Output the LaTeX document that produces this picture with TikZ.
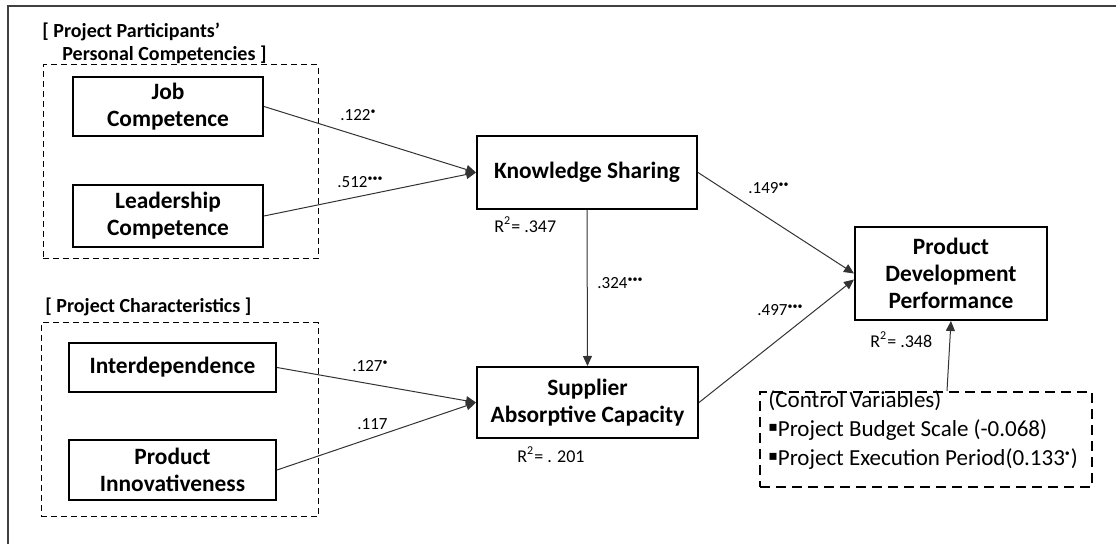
\documentclass[tikz,border=0pt]{standalone}
\usepackage{fontspec}
\setmainfont{Carlito}
\newfontfamily\symfont{DejaVu Sans}
\usetikzlibrary{arrows.meta}
\definecolor{framegray}{HTML}{404040}
\newcommand{\sig}[1]{\textsuperscript{\tiny #1}}
\newcommand{\sqbullet}{\raisebox{0.2em}{\symfont\scriptsize ▪}}

\begin{document}
\begin{tikzpicture}[x=0.5pt,y=-0.5pt,
	box/.style={draw,line width=1pt,align=center,inner sep=0pt,font=\fontsize{11.7}{13.5}\selectfont\bfseries},
	group/.style={draw,line width=0.5pt,dash pattern=on 3pt off 2pt,inner sep=0pt},
	ctrlbox/.style={draw,line width=1.1pt,dash pattern=on 5pt off 3pt,inner sep=0pt},
	effect/.style={-{Triangle[length=5pt,width=4.5pt]},line width=0.5pt,draw=black!80},
	coef/.style={anchor=west,inner sep=0pt,font=\fontsize{8.5}{10}\selectfont},
	rsq/.style={anchor=west,inner sep=0pt,font=\fontsize{9}{10}\selectfont},
	heading/.style={anchor=west,inner sep=0pt,font=\fontsize{10}{11.5}\selectfont\bfseries}]
		\useasboundingbox [fill=white] (0,0) rectangle (1116,544);
		\draw [framegray,line width=0.8pt] (8,544) -- (8,6) -- (1116,6);
		%
		\node [heading] (titleA) at (42,32) {[ Project Participants’};
		\node [heading] (titleB) at (62,55) {Personal Competencies ]};
		\node [heading] (titleC) at (45,307) {[ Project Characteristics ]};
		\node [group,minimum width=137.5pt,minimum height=97pt] (personal) at (180.5,162) {};
		\node [group,minimum width=138.5pt,minimum height=97pt] (project) at (179.5,420) {};
		%
		\node [box,minimum width=95pt,minimum height=29.5pt] (job) at (168,106.5) {Job\\Competence};
		\node [box,minimum width=95pt,minimum height=31pt] (lead) at (168,216) {Leadership\\Competence};
		\node [box,minimum width=103.5pt,minimum height=24.5pt] (inter) at (172.5,367.5) {Interdependence};
		\node [box,minimum width=103.5pt,minimum height=30pt] (innov) at (172.5,470) {Product\\Innovativeness};
		\node [box,minimum width=110pt,minimum height=36.5pt] (ks) at (587,172.5) {Knowledge Sharing};
		\node [box,minimum width=110.5pt,minimum height=35.5pt] (sac) at (587.5,402.5) {Supplier\\Absorptive Capacity};
		\node [box,minimum width=96pt,minimum height=46.5pt] (pdp) at (951,273.5) {Product\\Development\\Performance};
		\node [ctrlbox,minimum width=166pt,minimum height=47.5pt] (ctrl) at (926,439.5) {};
		\node [anchor=north west,inner sep=0pt,align=left,font=\fontsize{11.5}{14.5}\selectfont] (ctrltxt) at (768,390)
			{(Control Variables)\\\sqbullet Project Budget Scale (-0.068)\\\sqbullet Project Execution Period(0.133\sig{•})};
		%
		\draw [effect] (job.east) -- (ks.west);
		\draw [effect] (lead.east) -- (ks.west);
		\draw [effect] (inter.east) -- (sac.west);
		\draw [effect] (innov.east) -- (sac.west);
		\draw [effect] (ks.south) -- (sac.north);
		\draw [effect] (ks.east) -- (pdp.west);
		\draw [effect] (sac.east) -- ([yshift=-3pt]pdp.west);
		\draw [effect] ([xshift=10.5pt]ctrl.north) -- (pdp.south);
		%
		\node [coef] (cJob) at (340,115) {.122\sig{•}};
		\node [coef] (cLead) at (337,182) {.512\sig{•••}};
		\node [coef] (cInter) at (352,366) {.127\sig{•}};
		\node [coef] (cInnov) at (357,424) {.117};
		\node [coef] (cKs) at (597,283) {.324\sig{•••}};
		\node [coef] (cKsP) at (748,188) {.149\sig{••}};
		\node [coef] (cSacP) at (757,310) {.497\sig{•••}};
		\node [rsq] (rKs) at (494,225) {R\textsuperscript{2}= .347};
		\node [rsq] (rSac) at (517,455) {R\textsuperscript{2}= . 201};
		\node [rsq] (rPdp) at (870,340) {R\textsuperscript{2}= .348};
	\end{tikzpicture}
\end{document}
